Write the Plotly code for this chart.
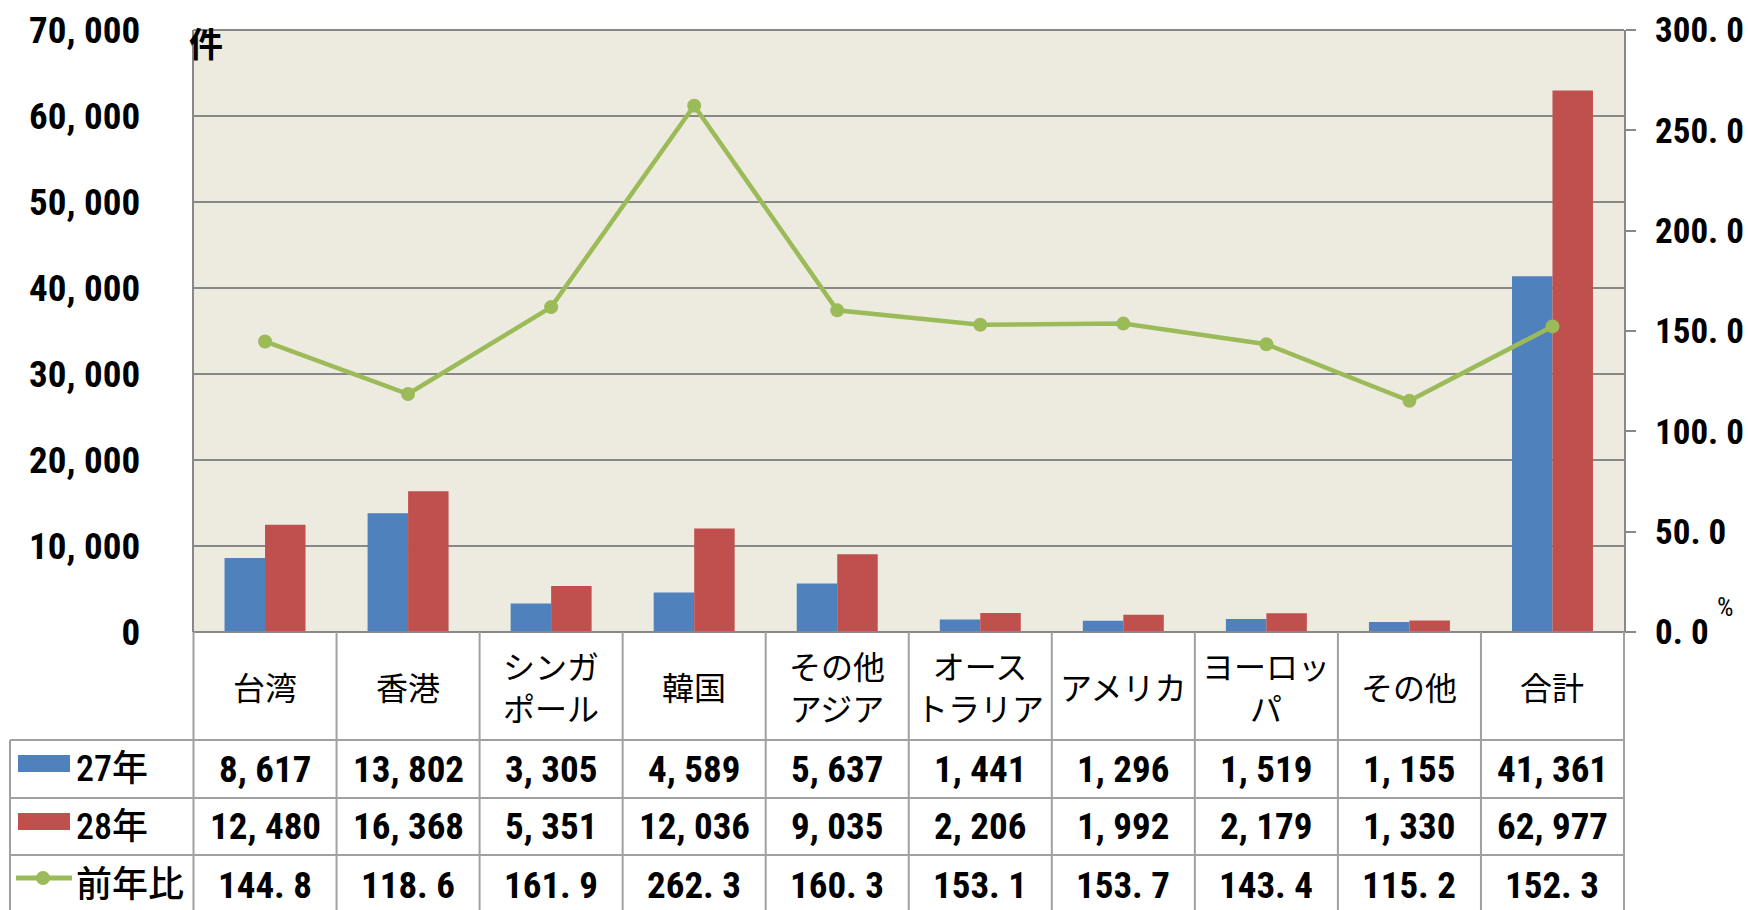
import plotly.graph_objects as go

categories = ["台湾", "香港", "シンガポール", "韓国", "その他アジア", "オーストラリア", "アメリカ", "ヨーロッパ", "その他", "合計"]
category_labels = ["台湾", "香港", "シンガ<br>ポール", "韓国", "その他<br>アジア", "オース<br>トラリア", "アメリカ", "ヨーロッ<br>パ", "その他", "合計"]
y27 = [8617, 13802, 3305, 4589, 5637, 1441, 1296, 1519, 1155, 41361]
y28 = [12480, 16368, 5351, 12036, 9035, 2206, 1992, 2179, 1330, 62977]
ratio = [144.8, 118.6, 161.9, 262.3, 160.3, 153.1, 153.7, 143.4, 115.2, 152.3]
series_names = ["27年", "28年", "前年比"]
left_ticks = [0, 10000, 20000, 30000, 40000, 50000, 60000, 70000]
right_ticks = [0, 50, 100, 150, 200, 250, 300]

W, H = 1748, 910
X0, X1 = 193.5, 1624.0
Y_TOP, Y_ZERO = 30.0, 632.0
ROWS = [632.0, 740.0, 798.0, 855.0, 910.0]
TBL_LEFT = 10.0

BLUE, RED, GREEN = "#4F81BD", "#C0504D", "#9BBB59"
GRID = "#888888"
TLINE = "#A0A0A0"
NUM_FONT = "Roboto Condensed, Noto Sans CJK JP"
JP_FONT = "Noto Sans CJK JP"
NUM_SIZE = 37
NUM_WEIGHT = "bold"

def px(x):
    return x / W

def py(y):
    return 1 - y / H

def fmt_int(v):
    return f"{v:,}".replace(",", ", ")

def fmt_ratio(v):
    return f"{v:.1f}".replace(".", ". ")

xs = list(range(len(categories)))

fig = go.Figure()
fig.add_trace(go.Bar(x=xs, y=y27, name=series_names[0], marker=dict(color=BLUE, line=dict(width=0))))
fig.add_trace(go.Bar(x=xs, y=y28, name=series_names[1], marker=dict(color=RED, line=dict(width=0))))
fig.add_trace(go.Scatter(x=xs, y=ratio, name=series_names[2], yaxis="y2", mode="lines+markers",
                         line=dict(color=GREEN, width=4.5), marker=dict(color=GREEN, size=14)))

shapes = []
shapes.append(dict(type="line", xref="paper", yref="paper", x0=px(X0), x1=px(X1), y0=py(Y_TOP), y1=py(Y_TOP),
                   line=dict(color=GRID, width=2)))
shapes.append(dict(type="line", xref="paper", yref="paper", x0=px(X0), x1=px(1634), y0=py(Y_ZERO), y1=py(Y_ZERO),
                   line=dict(color=GRID, width=2)))
for yy in ROWS[1:4]:
    shapes.append(dict(type="line", xref="paper", yref="paper", x0=px(TBL_LEFT), x1=px(X1), y0=py(yy), y1=py(yy),
                       line=dict(color=TLINE, width=2)))
colw = (X1 - X0) / len(categories)
for k in range(len(categories) + 1):
    xx = X0 + k * colw
    shapes.append(dict(type="line", xref="paper", yref="paper", x0=px(xx), x1=px(xx), y0=py(Y_ZERO), y1=py(H),
                       line=dict(color=TLINE, width=2)))
shapes.append(dict(type="line", xref="paper", yref="paper", x0=px(TBL_LEFT), x1=px(TBL_LEFT), y0=py(ROWS[1]), y1=py(H),
                   line=dict(color=TLINE, width=2)))
shapes.append(dict(type="rect", xref="paper", yref="paper", x0=px(18), x1=px(70), y0=py(772), y1=py(755),
                   fillcolor=BLUE, line=dict(width=0)))
shapes.append(dict(type="rect", xref="paper", yref="paper", x0=px(18), x1=px(70), y0=py(830), y1=py(813),
                   fillcolor=RED, line=dict(width=0)))
shapes.append(dict(type="line", xref="paper", yref="paper", x0=px(16), x1=px(72), y0=py(878), y1=py(878),
                   line=dict(color=GREEN, width=5)))
shapes.append(dict(type="circle", xref="paper", yref="paper", x0=px(36), x1=px(50), y0=py(885), y1=py(871),
                   fillcolor=GREEN, line=dict(width=0)))

annotations = []
row_centers = [(ROWS[0] + ROWS[1]) / 2, (ROWS[1] + ROWS[2]) / 2, (ROWS[2] + ROWS[3]) / 2, 885]
numfont = dict(family=NUM_FONT, size=NUM_SIZE, color="black", weight=NUM_WEIGHT)
rightfont = dict(family=NUM_FONT, size=35, color="black", weight=NUM_WEIGHT)
for i in xs:
    annotations.append(dict(x=i, xref="x", y=py(row_centers[0]), yref="paper", text=category_labels[i],
                            showarrow=False, font=dict(family=JP_FONT, size=32, color="black"),
                            xanchor="center", yanchor="middle"))
    for r, vals in enumerate([y27, y28]):
        annotations.append(dict(x=i, xref="x", y=py(row_centers[r + 1]), yref="paper", text=fmt_int(vals[i]),
                                showarrow=False, font=numfont, xanchor="center", yanchor="middle"))
    annotations.append(dict(x=i, xref="x", y=py(row_centers[3]), yref="paper", text=fmt_ratio(ratio[i]),
                            showarrow=False, font=numfont, xanchor="center", yanchor="middle"))
for r, name in enumerate(series_names):
    annotations.append(dict(x=px(74), xref="paper", y=py(row_centers[r + 1]), yref="paper", text=name,
                            showarrow=False, font=dict(family=NUM_FONT, size=36, color="black", weight=500),
                            xanchor="left", yanchor="middle"))
annotations.append(dict(x=px(206), xref="paper", y=py(42), yref="paper", text="<b>件</b>", showarrow=False,
                        font=dict(family=JP_FONT, size=34, color="black"), xanchor="center", yanchor="middle"))
annotations.append(dict(x=px(1725), xref="paper", y=py(607), yref="paper", text="%", showarrow=False,
                        font=dict(family=NUM_FONT, size=26, color="black"), xanchor="center", yanchor="middle"))

fig.update_layout(
    width=W, height=H,
    margin=dict(l=0, r=0, t=0, b=0),
    paper_bgcolor="white",
    plot_bgcolor="#EDEBE0",
    barmode="group", bargap=0.434, bargroupgap=0,
    showlegend=False,
    xaxis=dict(domain=[px(X0), px(X1)], range=[-0.5, len(categories) - 0.5], showticklabels=False,
               showgrid=False, zeroline=False, ticks="", showline=False, automargin=False),
    yaxis=dict(range=[0, 70000], tickvals=left_ticks, ticktext=[fmt_int(v) for v in left_ticks],
               domain=[py(Y_ZERO), py(Y_TOP)], showgrid=True, gridcolor=GRID, gridwidth=2,
               zeroline=False, showline=True, linecolor=GRID, linewidth=2, ticks="", automargin=False,
               ticklabelstandoff=44, tickfont=numfont),
    yaxis2=dict(range=[0, 300], overlaying="y", side="right", tickvals=right_ticks,
                ticktext=[fmt_ratio(v) for v in right_ticks], showgrid=False, zeroline=False,
                showline=True, linecolor=GRID, linewidth=2, ticks="outside", ticklen=10, tickcolor=GRID,
                tickwidth=2, ticklabelstandoff=12, automargin=False, tickfont=rightfont),
    shapes=shapes,
    annotations=annotations,
)

fig.write_html("out.html", config={"displayModeBar": False},
               post_script="document.body.style.margin='0';document.body.style.overflow='hidden';")
